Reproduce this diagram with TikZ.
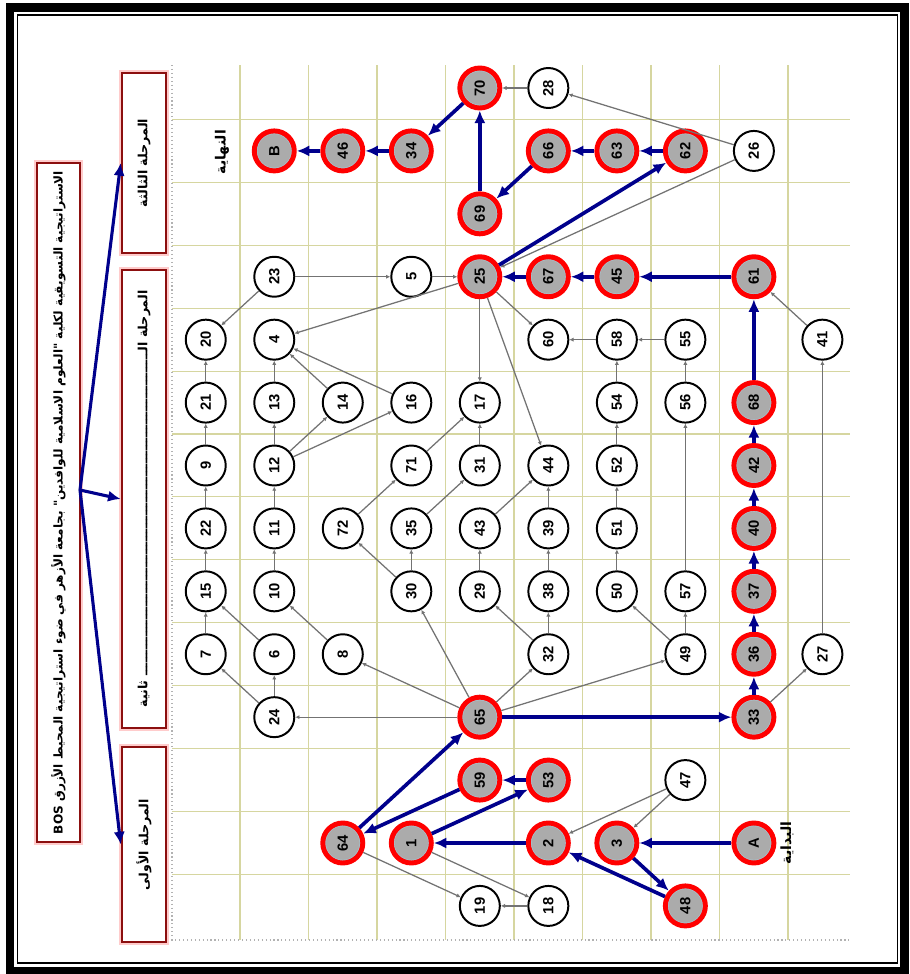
\documentclass[tikz,border=0pt]{standalone}
\usepackage{fontspec}
\setmainfont{Liberation Sans}
\newfontfamily\arabicfont[Script=Arabic]{DejaVu Sans}
\TeXXeTstate=1
\usetikzlibrary{arrows.meta}

\definecolor{pathblue}{RGB}{0,0,140}
\definecolor{gridline}{RGB}{214,214,160}
\definecolor{boxred}{RGB}{140,15,15}
\newcommand{\tatweelrun}{ـــــــــــــــــــ}

\begin{document}
\begin{tikzpicture}[
    x=0.025cm, y=-0.025cm,
    plain/.style={circle, draw, line width=1.4pt, fill=white, minimum size=1cm, inner sep=0pt,
        font=\bfseries\fontsize{10.5}{12}\selectfont, rotate=90},
    goal/.style={plain, draw=red, line width=3.5pt, fill=black!33,
        path picture={\draw[cyan!35!gray!60, line width=0.5pt] (path picture bounding box.center) circle (0.43cm);}},
    link/.style={draw=black!55, line width=0.9pt, -{Latex[length=3pt,width=3pt]}},
    flow/.style={draw=pathblue, line width=2.6pt, -{Latex[length=9pt,width=8pt]}},
    panel/.style={draw=boxred, line width=1.8pt, preaction={draw=red!20, line width=3.6pt}, fill=white,
        rotate=90, inner sep=0pt, font=\arabicfont\bfseries\fontsize{9}{11}\selectfont},
    tag/.style={rotate=90, font=\arabicfont\bfseries\fontsize{10}{12}\selectfont}
]
\useasboundingbox (0,0) rectangle (909,974);

% Frame
\draw[line width=6pt] (10,7.5) rectangle (904.5,971);
\draw[line width=1.2pt] (17.5,15) rectangle (897.5,963);

% Grid
\foreach \k in {0,...,8}
    \draw[gridline, line width=0.8pt] (240+68.5*\k,65) -- (240+68.5*\k,940);
\foreach \k in {0,...,12}
    \draw[gridline, line width=0.8pt] (172,119.5+62.9*\k) -- (850,119.5+62.9*\k);
\draw[black!30, dotted, line width=0.8pt] (172,65) -- (172,940) -- (850,940);

% Stages
\node[panel, minimum width=16.975cm, minimum height=1.075cm, font=\arabicfont\bfseries\fontsize{8.6}{10}\selectfont] (title) at (58.5,502.5)
    {\beginR الاستراتيجية التسويقية لكلية "العلوم الاسلامية للوافدين" بجامعة الأزهر في ضوء استراتيجية المحيط الأزرق \beginL BOS\endL\endR};
\node[panel, minimum width=4.5cm, minimum height=1.1cm] (s3) at (144,163)
    {\beginR المرحلة الثالثة\endR};
\node[panel, minimum width=11.45cm, minimum height=1.1cm] (s2) at (144,499)
    {\beginR المرحلة الـ\tatweelrun\tatweelrun\tatweelrun ـــــــــــــــــ ثانية\endR};
\node[panel, minimum width=4.875cm, minimum height=1.1cm] (s1) at (144,844.5)
    {\beginR المرحلة الأولى\endR};
\coordinate (fork) at (80,490);
\draw[flow, line width=2.2pt] (fork) -- (s3.north);
\draw[flow, line width=2.2pt] (fork) -- (s2.north);
\draw[flow, line width=2.2pt] (fork) -- (s1.north);

\node[tag] (endtag) at (222,152) {\beginR النهاية\endR};
\node[tag] (starttag) at (787,843) {\beginR البداية\endR};

% Nodes, one row of the grid after the other
\begin{scope}[shift={(205.75,88)}, x=1.7125cm, y=-1.5725cm]
% Row 0-2
\node[goal] (n70) at (4,0) {70};
\node[plain] (n28) at (5,0) {28};
\node[goal] (nB) at (1,1) {B};
\node[goal] (n46) at (2,1) {46};
\node[goal] (n34) at (3,1) {34};
\node[goal] (n66) at (5,1) {66};
\node[goal] (n63) at (6,1) {63};
\node[goal] (n62) at (7,1) {62};
\node[plain] (n26) at (8,1) {26};
\node[goal] (n69) at (4,2) {69};
% Row 3-4
\node[plain] (n23) at (1,3) {23};
\node[plain] (n5) at (3,3) {5};
\node[goal] (n25) at (4,3) {25};
\node[goal] (n67) at (5,3) {67};
\node[goal] (n45) at (6,3) {45};
\node[goal] (n61) at (8,3) {61};
\node[plain] (n20) at (0,4) {20};
\node[plain] (n4) at (1,4) {4};
\node[plain] (n60) at (5,4) {60};
\node[plain] (n58) at (6,4) {58};
\node[plain] (n55) at (7,4) {55};
\node[plain] (n41) at (9,4) {41};
% Row 5-6
\node[plain] (n21) at (0,5) {21};
\node[plain] (n13) at (1,5) {13};
\node[plain] (n14) at (2,5) {14};
\node[plain] (n16) at (3,5) {16};
\node[plain] (n17) at (4,5) {17};
\node[plain] (n54) at (6,5) {54};
\node[plain] (n56) at (7,5) {56};
\node[goal] (n68) at (8,5) {68};
\node[plain] (n9) at (0,6) {9};
\node[plain] (n12) at (1,6) {12};
\node[plain] (n71) at (3,6) {71};
\node[plain] (n31) at (4,6) {31};
\node[plain] (n44) at (5,6) {44};
\node[plain] (n52) at (6,6) {52};
\node[goal] (n42) at (8,6) {42};
% Row 7-8
\node[plain] (n22) at (0,7) {22};
\node[plain] (n11) at (1,7) {11};
\node[plain] (n72) at (2,7) {72};
\node[plain] (n35) at (3,7) {35};
\node[plain] (n43) at (4,7) {43};
\node[plain] (n39) at (5,7) {39};
\node[plain] (n51) at (6,7) {51};
\node[goal] (n40) at (8,7) {40};
\node[plain] (n15) at (0,8) {15};
\node[plain] (n10) at (1,8) {10};
\node[plain] (n30) at (3,8) {30};
\node[plain] (n29) at (4,8) {29};
\node[plain] (n38) at (5,8) {38};
\node[plain] (n50) at (6,8) {50};
\node[plain] (n57) at (7,8) {57};
\node[goal] (n37) at (8,8) {37};
% Row 9-10
\node[plain] (n7) at (0,9) {7};
\node[plain] (n6) at (1,9) {6};
\node[plain] (n8) at (2,9) {8};
\node[plain] (n32) at (5,9) {32};
\node[plain] (n49) at (7,9) {49};
\node[goal] (n36) at (8,9) {36};
\node[plain] (n27) at (9,9) {27};
\node[plain] (n24) at (1,10) {24};
\node[goal] (n65) at (4,10) {65};
\node[goal] (n33) at (8,10) {33};
% Row 11-13
\node[goal] (n59) at (4,11) {59};
\node[goal] (n53) at (5,11) {53};
\node[plain] (n47) at (7,11) {47};
\node[goal] (n64) at (2,12) {64};
\node[goal] (n1) at (3,12) {1};
\node[goal] (n2) at (5,12) {2};
\node[goal] (n3) at (6,12) {3};
\node[goal] (nA) at (8,12) {A};
\node[plain] (n19) at (4,13) {19};
\node[plain] (n18) at (5,13) {18};
\node[goal] (n48) at (7,13) {48};
\end{scope}

% Links
\draw[link] (n28) -- (n70);
\draw[link] (n26) -- (n28);
\draw[link] (n26) -- (n25);
\draw[link] (n23) -- (n5);
\draw[link] (n5) -- (n25);
\draw[link] (n23) -- (n20);
\draw[link] (n25) -- (n4);
\draw[link] (n25) -- (n17);
\draw[link] (n25) -- (n44);
\draw[link] (n25) -- (n60);
\draw[link] (n58) -- (n60);
\draw[link] (n55) -- (n58);
\draw[link] (n54) -- (n58);
\draw[link] (n52) -- (n54);
\draw[link] (n51) -- (n52);
\draw[link] (n50) -- (n51);
\draw[link] (n56) -- (n55);
\draw[link] (n57) -- (n56);
\draw[link] (n49) -- (n57);
\draw[link] (n49) -- (n50);
\draw[link] (n65) -- (n49);
\draw[link] (n27) -- (n41);
\draw[link] (n41) -- (n61);
\draw[link] (n33) -- (n27);
\draw[link] (n21) -- (n20);
\draw[link] (n9) -- (n21);
\draw[link] (n22) -- (n9);
\draw[link] (n15) -- (n22);
\draw[link] (n7) -- (n15);
\draw[link] (n6) -- (n15);
\draw[link] (n24) -- (n7);
\draw[link] (n24) -- (n6);
\draw[link] (n13) -- (n4);
\draw[link] (n12) -- (n13);
\draw[link] (n11) -- (n12);
\draw[link] (n10) -- (n11);
\draw[link] (n14) -- (n4);
\draw[link] (n16) -- (n4);
\draw[link] (n12) -- (n14);
\draw[link] (n12) -- (n16);
\draw[link] (n8) -- (n10);
\draw[link] (n65) -- (n8);
\draw[link] (n65) -- (n24);
\draw[link] (n31) -- (n17);
\draw[link] (n71) -- (n17);
\draw[link] (n72) -- (n71);
\draw[link] (n30) -- (n72);
\draw[link] (n30) -- (n35);
\draw[link] (n35) -- (n31);
\draw[link] (n65) -- (n30);
\draw[link] (n29) -- (n43);
\draw[link] (n43) -- (n44);
\draw[link] (n39) -- (n44);
\draw[link] (n38) -- (n39);
\draw[link] (n32) -- (n38);
\draw[link] (n32) -- (n29);
\draw[link] (n65) -- (n32);
\draw[link] (n64) -- (n19);
\draw[link] (n1) -- (n18);
\draw[link] (n18) -- (n19);
\draw[link] (n47) -- (n2);
\draw[link] (n47) -- (n3);

% Route from A to B
\draw[flow] (nA) -- (n3);
\draw[flow] (n3) -- (n48);
\draw[flow] (n48) -- (n2);
\draw[flow] (n2) -- (n1);
\draw[flow] (n1) -- (n53);
\draw[flow] (n53) -- (n59);
\draw[flow] (n59) -- (n64);
\draw[flow] (n64) -- (n65);
\draw[flow] (n65) -- (n33);
\draw[flow] (n33) -- (n36);
\draw[flow] (n36) -- (n37);
\draw[flow] (n37) -- (n40);
\draw[flow] (n40) -- (n42);
\draw[flow] (n42) -- (n68);
\draw[flow] (n68) -- (n61);
\draw[flow] (n61) -- (n45);
\draw[flow] (n45) -- (n67);
\draw[flow] (n67) -- (n25);
\draw[flow] (n25) -- (n62);
\draw[flow] (n62) -- (n63);
\draw[flow] (n63) -- (n66);
\draw[flow] (n66) -- (n69);
\draw[flow] (n69) -- (n70);
\draw[flow] (n70) -- (n34);
\draw[flow] (n34) -- (n46);
\draw[flow] (n46) -- (nB);

\end{tikzpicture}
\end{document}
